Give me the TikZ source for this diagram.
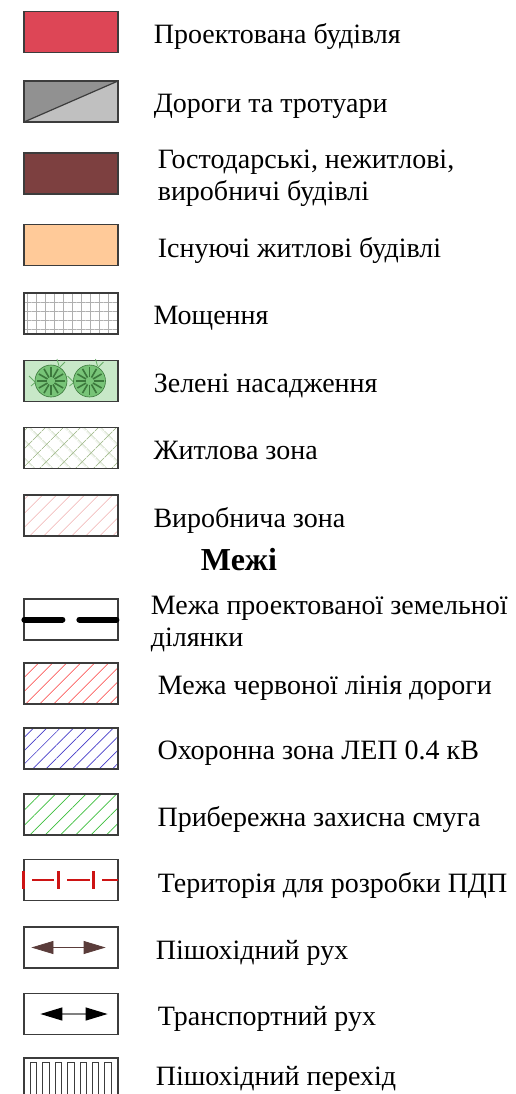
\documentclass[tikz,border=0pt]{standalone}
\usepackage{fontspec}
\setmainfont{Liberation Serif}
\usetikzlibrary{positioning, arrows.meta, patterns.meta}
\definecolor{BoxGray}   {RGB}{60, 60, 60}
\definecolor{BuiltRed}  {RGB}{221, 70, 86}
\definecolor{RoadDark}  {RGB}{145,145,145}
\definecolor{RoadLight} {RGB}{192,192,192}
\definecolor{FarmBrown} {RGB}{125, 64, 64}
\definecolor{HousePeach}{RGB}{255,202,153}
\definecolor{GridGray}  {RGB}{175,175,175}
\definecolor{GreenFill} {RGB}{200,232,200}
\definecolor{TreeGreen} {RGB}{120,196,120}
\definecolor{TreeDark}  {RGB}{ 60,120, 60}
\definecolor{ResZone}   {RGB}{170,192,150}
\definecolor{ProdPink}  {RGB}{240,175,175}
\definecolor{RedLine}   {RGB}{250, 60, 60}
\definecolor{BlueLine}  {RGB}{ 70, 60,200}
\definecolor{GreenLine} {RGB}{ 60,190, 60}
\definecolor{PdpRed}    {RGB}{205, 20, 20}
\definecolor{WalkBrown} {RGB}{ 90, 60, 58}

\begin{document}
\begin{tikzpicture}[
    x=1pt, y=-1pt,
    swatch/.style={draw=BoxGray, line width=1.2pt, minimum width=94pt, minimum height=41pt, inner sep=0pt},
    lbl/.style={inner sep=0pt, align=left, yshift=-5pt, font=\fontsize{28}{32}\selectfont},
    hatch/.style={pattern={Lines[angle=45, distance=#1, line width=0.7pt]}},
    boundary/.style={line width=6pt, line cap=round, black},
    pdp/.style={PdpRed, line width=2.2pt},
    walk/.style={WalkBrown, line width=0.8pt, {Triangle[length=22pt, width=13pt]}-{Triangle[length=22pt, width=13pt]}},
    drive/.style={gray, line width=1.2pt, {Triangle[length=22pt, width=13pt, black]}-{Triangle[length=22pt, width=13pt, black]}}
]
    \useasboundingbox (0,0) rectangle (516,1094);

    % Swatches
    \node[swatch, fill=BuiltRed] (built) at (71,32) {};
    \node[swatch, fill=RoadLight, path picture={
        \fill[RoadDark] (path picture bounding box.south west) -- (path picture bounding box.north west) -- (path picture bounding box.north east) -- cycle;
        \draw[line width=1.2pt] (path picture bounding box.south west) -- (path picture bounding box.north east);}] (roads) at (71,101.5) {};
    \node[swatch, fill=FarmBrown] (farm) at (71,173.5) {};
    \node[swatch, fill=HousePeach] (houses) at (71,245) {};
    \node[swatch, pattern={Hatch[angle=0, distance=9pt, line width=0.6pt]}, pattern color=GridGray] (paving) at (71,313.5) {};
    \node[swatch, fill=GreenFill] (greens) at (71,381) {};
    \node[swatch, pattern={Hatch[angle=45, distance=13pt, line width=0.8pt]}, pattern color=ResZone] (reszone) at (71,448) {};
    \node[swatch, hatch=10.5pt, pattern color=ProdPink] (prodzone) at (71,515.5) {};
    \node[swatch] (plot) at (71,619.5) {};
    \node[swatch, hatch=10.5pt, pattern color=RedLine] (redline) at (71,683.5) {};
    \node[swatch, hatch=9.4pt, pattern color=BlueLine] (power) at (71,748.5) {};
    \node[swatch, hatch=10.8pt, pattern color=GreenLine] (shore) at (71,814.5) {};
    \node[swatch] (pdparea) at (71,880) {};
    \node[swatch] (walkway) at (71,947.5) {};
    \node[swatch] (traffic) at (71,1014) {};
    \node[swatch] (crossing) at (71,1078.5) {};

    % Trees
    \foreach \cx in {51,89.5} {
        \draw[TreeGreen!70!TreeDark, line width=0.8pt] (\cx-22,376) -- (\cx-16,382) (\cx-20,386) -- (\cx-14,381);
        \draw[TreeGreen!70!TreeDark, line width=0.8pt] (\cx+6,359) -- (\cx+8,366) (\cx+14,362) -- (\cx+9,367);
        \draw[TreeDark, fill=TreeGreen, line width=0.6pt] (\cx,381) circle (16pt);
        \foreach \a in {0,30,...,330}
            \draw[TreeDark, line width=1.6pt] (\cx,381) ++(\a:4) -- ++(\a:10);
    }

    % Symbols
    \draw[boundary] ([xshift=1pt]plot.west) -- ++(38,0);
    \draw[boundary] ([xshift=56pt]plot.west) -- ++(37,0);
    \foreach \i/\len in {0/22,1/23,2/16} {
        \draw[pdp] ([xshift=\i*35pt, yshift=9pt]pdparea.west) -- ++(0,18);
        \draw[pdp] ([xshift=\i*35pt+9pt]pdparea.west) -- ++(\len,0);
    }
    \draw[walk] ([xshift=8pt]walkway.west) -- ([xshift=-13pt]walkway.east);
    \draw[drive] ([xshift=17pt]traffic.west) -- ([xshift=-11pt]traffic.east);
    \foreach \i in {0,...,6}
        \draw[BoxGray, line width=1pt] ([xshift=7pt+\i*12.4pt]crossing.north west) ++(0,5) rectangle ++(6.5,40);

    % Labels
    \node[lbl, right=35pt of built] (builtlbl) {Проектована будівля};
    \node[lbl, right=35pt of roads] (roadslbl) {Дороги та тротуари};
    \node[lbl, right=39pt of farm] (farmlbl) {Гостодарські, нежитлові,\\виробничі будівлі};
    \node[lbl, right=39pt of houses] (houseslbl) {Існуючі житлові будівлі};
    \node[lbl, right=35pt of paving] (pavinglbl) {Мощення};
    \node[lbl, right=35pt of greens] (greenslbl) {Зелені насадження};
    \node[lbl, right=35pt of reszone, yshift=3pt] (reszonelbl) {Житлова зона};
    \node[lbl, right=35pt of prodzone] (prodzonelbl) {Виробнича зона};
    \node[font=\fontsize{32}{36}\selectfont\bfseries, inner sep=0pt] (limits) at (239,560) {Межі};
    \node[lbl, right=32pt of plot] (plotlbl) {Межа проектованої земельної\\ділянки};
    \node[lbl, right=39pt of redline] (redlinelbl) {Межа червоної лінія дороги};
    \node[lbl, right=39pt of power] (powerlbl) {Охоронна зона ЛЕП 0.4 кВ};
    \node[lbl, right=39pt of shore] (shorelbl) {Прибережна захисна смуга};
    \node[lbl, right=39pt of pdparea] (pdplbl) {Територія для розробки ПДП};
    \node[lbl, right=37pt of walkway] (walklbl) {Пішохідний рух};
    \node[lbl, right=39pt of traffic] (trafficlbl) {Транспортний рух};
    \node[lbl, right=37pt of crossing, yshift=5pt] (crossinglbl) {Пішохідний перехід};
\end{tikzpicture}
\end{document}
